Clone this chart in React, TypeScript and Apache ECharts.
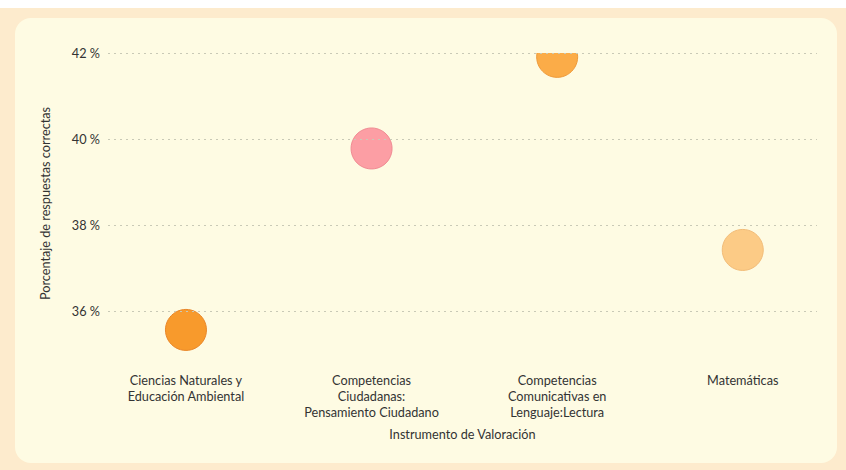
import React, { useEffect, useRef } from "react";
import * as echarts from "echarts";

const categories = [
  "Ciencias Naturales y Educación Ambiental",
  "Competencias Ciudadanas: Pensamiento Ciudadano",
  "Competencias Comunicativas en Lenguaje:Lectura",
  "Matemáticas",
];
const tickLabels = [
  "Ciencias Naturales y\nEducación Ambiental",
  "Competencias\nCiudadanas:\nPensamiento Ciudadano",
  "Competencias\nComunicativas en\nLenguaje:Lectura",
  "Matemáticas",
];
const values = [35.56, 39.78, 41.91, 37.42];
const colors = ["#F89A2C", "#FC9EA4", "#FBAC48", "#FCCB86"];
const borders = ["#E9872A", "#F08A92", "#EE9A3A", "#F2BC78"];
const gridValues = [36, 38, 40, 42];
const bubbleSize = 41;

export default function App() {
  const ref = useRef<HTMLDivElement>(null);
  useEffect(() => {
    if (!ref.current) return;
    const chart = echarts.init(ref.current, undefined, { renderer: "svg" });
    const font = "Lato, 'Open Sans', sans-serif";
    const fs = 12.7;
    chart.setOption({
      animation: false,
      backgroundColor: "#ffffff",
      graphic: [
        {
          type: "rect",
          z: -20,
          silent: true,
          shape: { x: 0, y: 8, width: 846, height: 462 },
          style: { fill: "#FDEBCD" },
        },
        {
          type: "rect",
          z: -10,
          silent: true,
          shape: { x: 15, y: 18, width: 822, height: 445, r: 16 },
          style: { fill: "#FEFBE3" },
        },
      ],
      grid: { left: 108, right: 29, top: 53, bottom: 116, containLabel: false },
      xAxis: {
        type: "value",
        min: -0.42,
        max: 3.4,
        name: "Instrumento de Valoración",
        nameLocation: "middle",
        nameGap: 73,
        nameTextStyle: { fontFamily: font, fontSize: fs, color: "#333" },
        axisLine: { show: false },
        axisTick: { show: false },
        splitLine: { show: false },
        axisLabel: {
          customValues: [0, 1, 2, 3],
          formatter: (v: number) => tickLabels[Math.round(v)] ?? "",
          fontFamily: font,
          fontSize: fs,
          color: "#333",
          lineHeight: 16,
          margin: 18,
          align: "center",
        },
      },
      yAxis: {
        type: "value",
        min: 35,
        max: 42,
        interval: 1,
        name: "Porcentaje de respuestas correctas",
        nameLocation: "middle",
        nameGap: 57,
        nameTextStyle: { fontFamily: font, fontSize: fs, color: "#333" },
        axisLine: { show: false },
        axisTick: { show: false },
        splitLine: { show: false },
        axisLabel: {
          formatter: (v: number) => (Math.round(v) % 2 === 0 ? `${v} %` : ""),
          fontFamily: font,
          fontSize: fs,
          color: "#333",
          margin: 8,
        },
      },
      series: [
        {
          type: "line",
          data: [],
          z: 1,
          silent: true,
          markLine: {
            silent: true,
            symbol: "none",
            label: { show: false },
            lineStyle: { type: [2, 4], color: "#C9C9B6", width: 1 },
            data: gridValues.map((v) => ({ yAxis: v })),
          },
        },
        {
          type: "custom",
          z: 3,
          clip: true,
          data: values.map((v, i) => ({ name: categories[i], value: [i, v] })),
          renderItem: (params: any, api: any) => {
            const i = params.dataIndex;
            const p = api.coord([api.value(0), api.value(1)]);
            return {
              type: "circle",
              shape: { cx: p[0], cy: p[1], r: bubbleSize / 2 },
              style: { fill: colors[i], stroke: borders[i], lineWidth: 1 },
            };
          },
        },
      ],
    });
    return () => chart.dispose();
  }, []);
  return (
    <div style={{ position: "fixed", left: 0, top: 0, width: 846, height: 470 }}>
      <div ref={ref} style={{ width: 846, height: 470 }} />
    </div>
  );
}
